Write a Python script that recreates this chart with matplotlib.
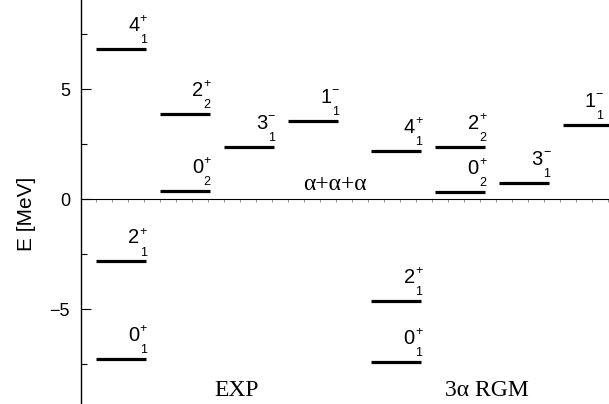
import matplotlib
matplotlib.use('Agg')
import matplotlib.pyplot as plt
from matplotlib.ticker import FixedLocator, MultipleLocator, NullFormatter

# level energies relative to the 3-alpha threshold (MeV)
exp_cols = [0, 0, 0, 1, 1, 2, 3]
exp_E = [6.82, -2.84, -7.27, 3.88, 0.38, 2.37, 3.56]
exp_J = ['4', '2', '0', '2', '0', '3', '1']
exp_par = ['+', '+', '+', '+', '+', '-', '-']
exp_n = ['1', '1', '1', '2', '2', '1', '1']

rgm_cols = [4.3, 4.3, 4.3, 5.3, 5.3, 6.3, 7.3]
rgm_E = [2.18, -4.64, -7.41, 2.36, 0.32, 0.73, 3.36]
rgm_J = ['4', '2', '0', '2', '0', '3', '1']
rgm_par = ['+', '+', '+', '+', '+', '-', '-']
rgm_n = ['1', '1', '1', '2', '2', '1', '1']

width = 0.78
xmax = 513 / 64

plt.rcParams['font.family'] = ['Liberation Sans', 'DejaVu Sans']

fig = plt.figure(figsize=(6.09, 4.04), dpi=100)
ax = fig.add_axes([81 / 609, 0, 1 - 81 / 609, 1])
ax.set_xlim(-15 / 64, xmax)
ax.set_ylim(-205 / 22, 199 / 22)


def level_label(x, y, J, par, n):
    sign = '+' if par == '+' else '\u2212'
    kw = dict(textcoords='offset points', va='baseline', ha='right',
              annotation_clip=False)
    ax.annotate(J, xy=(x, y), xytext=(-4.6, 13), fontsize=14.5, **kw)
    ax.annotate(sign, xy=(x, y), xytext=(0.8, 19.3), fontsize=9, **kw)
    ax.annotate(n, xy=(x, y), xytext=(0.6, 4.3), fontsize=9, **kw)


for cols, E, J, par, n in [(exp_cols, exp_E, exp_J, exp_par, exp_n),
                           (rgm_cols, rgm_E, rgm_J, rgm_par, rgm_n)]:
    for i in range(len(E)):
        ax.plot([cols[i], cols[i] + width], [E[i], E[i]], color='black',
                lw=2.3, solid_capstyle='butt')
        xr = min(cols[i] + width, xmax - 0.11)
        level_label(xr, E[i], J[i], par[i], n[i])

ax.text(3.73, 0.41, '\u03b1+\u03b1+\u03b1', family='Liberation Serif',
        fontsize=17, ha='center', va='baseline')
ax.text(2.2, -8.95, 'EXP', family='Liberation Serif', fontsize=17,
        ha='center', va='baseline')
ax.text(6.1, -8.95, '3\u03b1 RGM', family='Liberation Serif', fontsize=17,
        ha='center', va='baseline')

for s in ['top', 'right']:
    ax.spines[s].set_visible(False)
ax.spines['bottom'].set_position(('data', 0))
ax.spines['bottom'].set_linewidth(0.8)
ax.spines['left'].set_linewidth(1.0)

ax.xaxis.set_major_locator(MultipleLocator(0.25))
ax.xaxis.set_major_formatter(NullFormatter())
ax.tick_params(axis='x', direction='out', length=2, width=0.5, color='#666666')

ax.yaxis.set_major_locator(FixedLocator([-5, 0, 5]))
ax.yaxis.set_minor_locator(FixedLocator([-7.5, -2.5, 2.5, 7.5]))
ax.tick_params(axis='y', which='major', direction='in', length=7.5, width=0.8,
               labelsize=13, pad=8)
ax.tick_params(axis='y', which='minor', direction='in', length=4.5, width=0.8)
ax.set_yticklabels(['\u22125', '0', '5'])

ax.set_ylabel('E [MeV]', fontsize=15)
ax.yaxis.set_label_coords(-0.085, 0.47)

fig.savefig('out.png', dpi=100)
